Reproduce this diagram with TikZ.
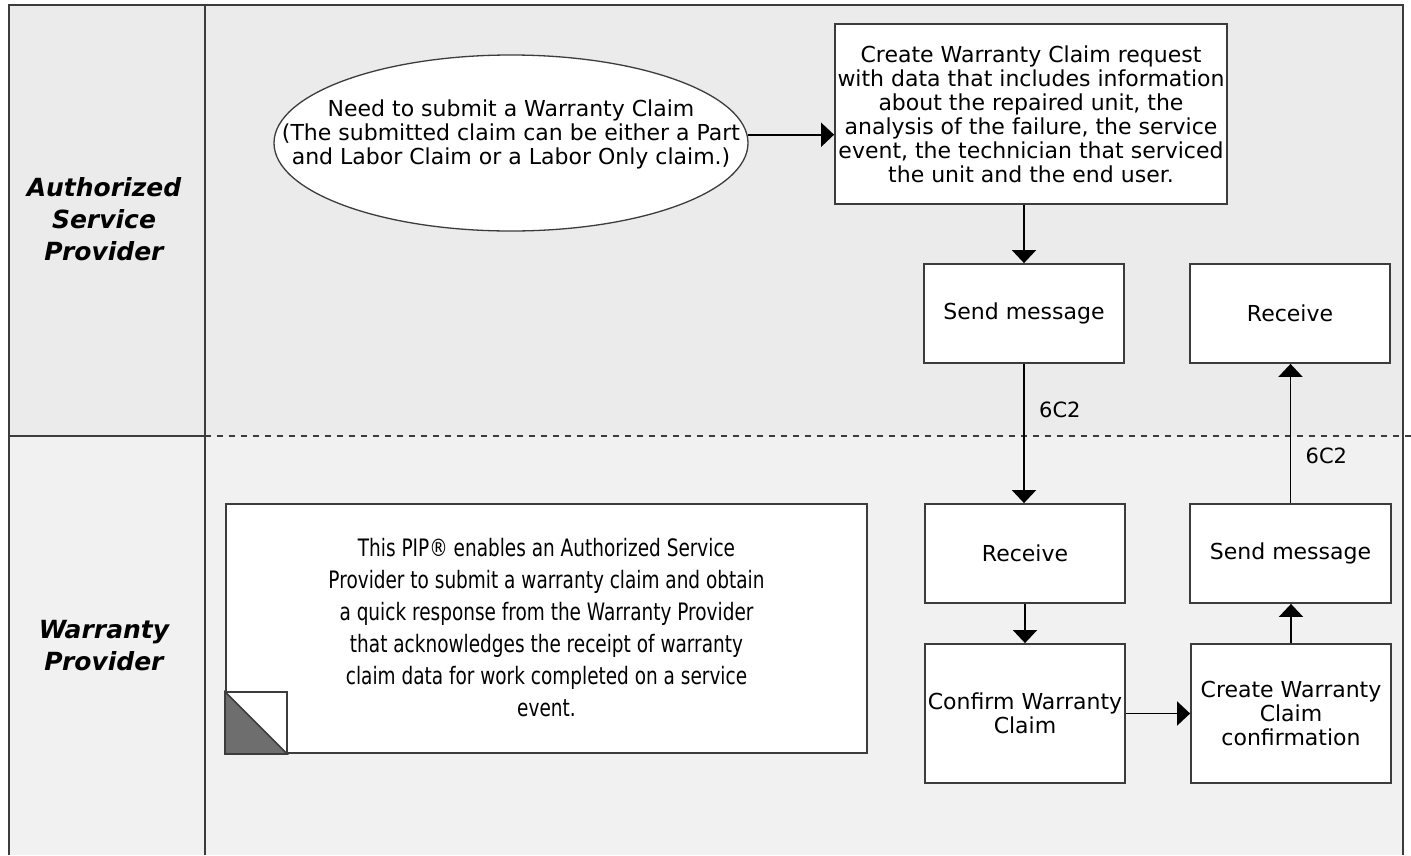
\documentclass[tikz,border=0pt]{standalone}
\usepackage{fontspec}
\setmainfont{DejaVu Sans}
\newfontfamily\notefont[FakeStretch=0.77]{DejaVu Sans}
\usetikzlibrary{arrows.meta,shapes.geometric}
\definecolor{lanetop}{HTML}{EBEBEB}
\definecolor{lanebot}{HTML}{F1F1F1}
\definecolor{linec}{HTML}{3C3C3C}
\definecolor{foldc}{HTML}{6E6E6E}
\begin{document}
\begin{tikzpicture}[x=1pt,y=-1pt,
  proc/.style={draw=linec, line width=1.8pt, fill=white, rectangle, inner sep=0pt, align=center,
    font=\fontsize{22}{24}\selectfont, minimum width=200pt, minimum height=99pt},
  arr/.style={line width=1.7pt, -{Triangle[width=24pt,length=13pt]}},
  lane/.style={font=\fontsize{25}{32}\selectfont\bfseries\itshape, align=center},
  flowlbl/.style={font=\fontsize{21}{24}\selectfont, anchor=west},
  border/.style={draw=linec, line width=2pt}
]
\useasboundingbox (0,0) rectangle (1411,855);
\fill[white] (0,0) rectangle (1411,855);
\fill[lanetop] (9,5) rectangle (1403,436);
\fill[lanebot] (9,436) rectangle (1403,855);
% lane frame
\draw[border] (9,855) -- (9,5) -- (1403,5) -- (1403,855);
\draw[border] (205,5) -- (205,855);
\draw[border] (9,436) -- (205,436);
\draw[border, dash pattern=on 6pt off 6pt] (205,436) -- (1411,436);
% lane labels
\node[lane] (lane1) at (104,219) {Authorized\\Service\\Provider};
\node[lane] (lane2) at (104,646) {Warranty\\Provider};
% start ellipse
\node[ellipse, draw=linec, line width=1.3pt, fill=white, minimum width=474pt, minimum height=176pt, inner sep=0pt] (ell) at (511,143) {};
\node[font=\fontsize{22}{24}\selectfont, align=center, inner sep=0pt] (elltxt) at (511,134)
  {Need to submit a Warranty Claim\\(The submitted claim can be either a Part\\and Labor Claim or a Labor Only claim.)};
% process boxes
\node[proc, minimum width=392pt, minimum height=180pt] (create) at (1031,114)
  {Create Warranty Claim request\\with data that includes information\\about the repaired unit, the\\analysis of the failure, the service\\event, the technician that serviced\\the unit and the end user.};
\node[proc] (send1) at (1024,313.5) {Send message};
\node[proc] (recv1) at (1290,313.5) {Receive};
\node[proc] (recv2) at (1025,553.5) {Receive};
\node[proc, minimum width=201pt] (send2) at (1290.5,553.5) {Send message};
\node[proc, minimum height=139pt] (confirm) at (1025,713.5) {Confirm Warranty\\Claim};
\node[proc, minimum height=139pt] (createconf) at (1291,713.5) {Create Warranty\\Claim\\confirmation};
% note
\node[draw=linec, line width=1.8pt, fill=white, minimum width=641pt, minimum height=249pt, inner sep=0pt] (note) at (546.5,628.5) {};
\node[font=\notefont\fontsize{24}{32}\selectfont, align=center, inner sep=0pt] (notetxt) at (546.5,628)
  {This PIP® enables an Authorized Service\\Provider to submit a warranty claim and obtain\\a quick response from the Warranty Provider\\that acknowledges the receipt of warranty\\claim data for work completed on a service\\event.};
\draw[linec, line width=1.5pt, fill=white] (note.south west) rectangle ++(62,-62);
\draw[linec, line width=1.5pt, fill=foldc] (note.south west) -- ++(0,-62) -- ++(62,62) -- cycle;
% connectors
\draw[arr] (ell.2.2) -- (ell.2.2 -| create.west);
\draw[arr] (send1.north |- create.south) -- (send1.north);
\draw[arr] (send1.south) -- (send1.south |- recv2.north) node[flowlbl, pos=0.33, xshift=11pt] {6C2};
\draw[arr] (recv2.south) -- (confirm.north);
\draw[arr] (confirm.east) -- (createconf.west);
\draw[arr] (createconf.north) -- (createconf.north |- send2.south);
\draw[arr] (send2.north) -- (send2.north |- recv1.south) node[flowlbl, pos=0.34, xshift=11pt] {6C2};
\end{tikzpicture}
\end{document}
